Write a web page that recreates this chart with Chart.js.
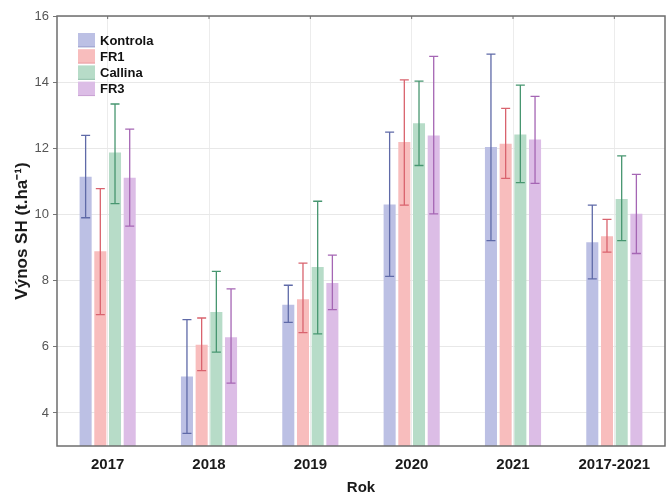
<!DOCTYPE html>
<html>
<head>
<meta charset="utf-8">
<script src="https://cdn.jsdelivr.net/npm/chart.js@4"></script>
<style>
  html, body { margin: 0; padding: 0; background: #ffffff; }
  #wrap { width: 666px; height: 497px; position: relative; }
</style>
</head>
<body>
<div id="wrap"><canvas id="vynosChart"></canvas></div>
<script>
// kategorie (roky)
const roky = ['2017', '2018', '2019', '2020', '2021', '2017-2021'];
const varianty = ['Kontrola', 'FR1', 'Callina', 'FR3'];

// průměrné výnosy (t/ha)
const kontrola = [11.14, 5.10, 7.27, 10.30, 12.04, 9.16];
const fr1      = [8.89, 6.06, 7.44, 12.19, 12.14, 9.34];
const callina  = [11.87, 7.05, 8.41, 12.76, 12.42, 10.47];
const fr3      = [11.11, 6.29, 7.93, 12.39, 12.27, 10.02];

// chybové úsečky: dolní a horní mez
const kontrolaLow  = [9.90, 3.38, 6.74, 8.13, 9.21, 8.05];
const kontrolaHigh = [12.39, 6.82, 7.86, 12.49, 14.85, 10.28];
const fr1Low       = [6.97, 5.28, 6.43, 10.28, 11.09, 8.86];
const fr1High      = [10.78, 6.87, 8.53, 14.07, 13.21, 9.85];
const callinaLow   = [10.33, 5.84, 6.39, 11.48, 10.96, 9.21];
const callinaHigh  = [13.34, 8.28, 10.40, 14.03, 13.91, 11.77];
const fr3Low       = [9.65, 4.90, 7.12, 10.02, 10.94, 8.82];
const fr3High      = [12.58, 7.75, 8.77, 14.78, 13.57, 11.21];

const yTicks = [4, 6, 8, 10, 12, 14, 16];

const barvy  = ['#bcc0e4', '#f8bdbd', '#b7dcc8', '#dcbde6'];
const chybne = ['#5f6aa8', '#d9636e', '#479670', '#a566b4'];

const hodnoty = [kontrola, fr1, callina, fr3];
const dolni = [kontrolaLow, fr1Low, callinaLow, fr3Low];
const horni = [kontrolaHigh, fr1High, callinaHigh, fr3High];

// error bars kreslené přes škálu
const errorBarsPlugin = {
    id: 'errorBars',
    afterDatasetsDraw(chart) {
        const ctx = chart.ctx;
        const y = chart.scales.y;
        chart.data.datasets.forEach((ds, i) => {
            const meta = chart.getDatasetMeta(i);
            ctx.save();
            ctx.strokeStyle = chybne[i];
            ctx.lineWidth = 1.3;
            meta.data.forEach((bar, j) => {
                const yl = y.getPixelForValue(dolni[i][j]);
                const yh = y.getPixelForValue(horni[i][j]);
                const cap = 4.5;
                ctx.beginPath();
                ctx.moveTo(bar.x, yl); ctx.lineTo(bar.x, yh);
                ctx.moveTo(bar.x - cap, yl); ctx.lineTo(bar.x + cap, yl);
                ctx.moveTo(bar.x - cap, yh); ctx.lineTo(bar.x + cap, yh);
                ctx.stroke();
            });
            ctx.restore();
        });
    }
};

// rámeček + legenda uvnitř grafu
const frameLegendPlugin = {
    id: 'frameLegend',
    afterDraw(chart) {
        const ctx = chart.ctx;
        const a = chart.chartArea;
        ctx.save();
        ctx.strokeStyle = '#6e6e6e';
        ctx.lineWidth = 1.5;
        ctx.strokeRect(a.left, a.top, a.right - a.left, a.bottom - a.top);
        // malé značky nahoře u kategorií
        const x = chart.scales.x;
        ctx.lineWidth = 1;
        roky.forEach((r, i) => {
            const px = x.getPixelForValue(i);
            ctx.beginPath(); ctx.moveTo(px, a.top); ctx.lineTo(px, a.top + 3); ctx.stroke();
        });
        // legenda
        ctx.font = 'bold 13px "Liberation Sans", Arial, sans-serif';
        ctx.textBaseline = 'middle';
        varianty.forEach((v, i) => {
            const ly = a.top + 24 + i * 16.2;
            ctx.fillStyle = barvy[i];
            ctx.fillRect(a.left + 21, ly - 7, 17, 14);
            ctx.strokeStyle = chybne[i];
            ctx.globalAlpha = 0.5;
            ctx.lineWidth = 1;
            ctx.beginPath(); ctx.moveTo(a.left + 21, ly + 7); ctx.lineTo(a.left + 38, ly + 7); ctx.stroke();
            ctx.globalAlpha = 1;
            ctx.fillStyle = '#111111';
            ctx.fillText(v, a.left + 43, ly + 1);
        });
        ctx.restore();
    }
};

const ctxVynos = document.getElementById('vynosChart');
new Chart(ctxVynos, {
    type: 'bar',
    data: {
        labels: roky,
        datasets: varianty.map((v, i) => ({
            label: v,
            data: hodnoty[i],
            backgroundColor: barvy[i],
            borderWidth: 0,
            categoryPercentage: 0.58,
            barPercentage: 0.82
        }))
    },
    options: {
        responsive: true,
        maintainAspectRatio: false,
        animation: false,
        layout: { padding: { top: 16, right: 1, left: 0, bottom: 0 } },
        plugins: {
            legend: { display: false },
            tooltip: { enabled: false }
        },
        scales: {
            x: {
                offset: true,
                grid: { offset: false, color: '#ececec', drawTicks: false },
                border: { display: false },
                ticks: {
                    color: '#1a1a1a',
                    padding: 10,
                    font: { family: '"Liberation Sans", Arial, sans-serif', size: 15, weight: 'bold' }
                },
                title: {
                    display: true,
                    text: 'Rok',
                    color: '#1a1a1a',
                    padding: { top: 6, bottom: 0 },
                    font: { family: '"Liberation Sans", Arial, sans-serif', size: 15, weight: 'bold' }
                },
                afterFit(scale) { scale.height = 51; }
            },
            y: {
                min: 3,
                max: 16,
                afterBuildTicks(scale) { scale.ticks = yTicks.map(v => ({ value: v })); },
                grid: { color: '#e8e8e8', tickLength: 4, tickColor: '#777777' },
                border: { display: false },
                ticks: {
                    color: '#555555',
                    padding: 4,
                    font: { family: '"Liberation Sans", Arial, sans-serif', size: 13 }
                },
                title: {
                    display: true,
                    text: 'Výnos SH (t.ha⁻¹)',
                    color: '#1a1a1a',
                    padding: { top: 12, bottom: 0 },
                    font: { family: '"Liberation Sans", Arial, sans-serif', size: 17, weight: 'bold' }
                },
                afterFit(scale) { scale.width = 57; }
            }
        }
    },
    plugins: [errorBarsPlugin, frameLegendPlugin]
});
</script>
</body>
</html>
